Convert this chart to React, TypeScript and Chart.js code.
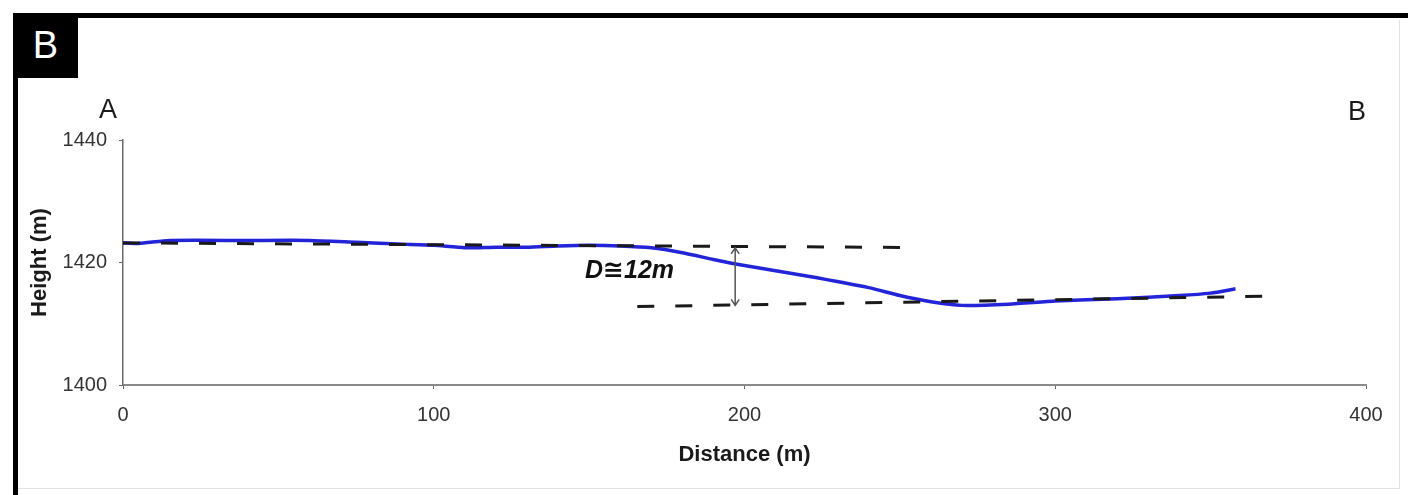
import React, { useEffect, useRef } from "react";
import { Chart, registerables } from "chart.js";

Chart.register(...registerables);

// Profile A–B: distance (m) vs height (m)
const distances = [0, 5, 15, 40, 60, 75, 90, 100, 110, 120, 130, 140, 150, 160, 170, 180, 190, 200, 220, 240, 250, 260, 270, 285, 300, 320, 340, 350, 358];
const heights = [1423.2, 1423.1, 1423.6, 1423.6, 1423.6, 1423.3, 1423.0, 1422.8, 1422.4, 1422.5, 1422.5, 1422.7, 1422.8, 1422.7, 1422.4, 1421.6, 1420.5, 1419.5, 1417.8, 1415.9, 1414.6, 1413.6, 1413.0, 1413.2, 1413.7, 1414.1, 1414.6, 1415.0, 1415.7];

// Dashed reference levels
const upperLevelX = [0, 256];
const upperLevelY = [1423.2, 1422.45];
const lowerLevelX = [165.5, 369];
const lowerLevelY = [1412.8, 1414.5];

// Offset marker
const markerX = 197;
const markerYs = [1422.4, 1413.0];
const gapLabel = "D\u224512m";
const gapLabelAt = [163, 1418.6];

// Axes
const xTicks = [0, 100, 200, 300, 400];
const yTicks = [1400, 1420, 1440];
const xTitle = "Distance (m)";
const yTitle = "Height (m)";
const panelLabel = "B";
const startLabel = "A";
const endLabel = "B";

const gapPlugin = {
  id: "gapMarker",
  afterDatasetsDraw(chart: any) {
    const { ctx, scales } = chart;
    const x = scales.x;
    const y = scales.y;
    const px = x.getPixelForValue(markerX);
    const pTop = y.getPixelForValue(markerYs[0]);
    const pBot = y.getPixelForValue(markerYs[1]);
    ctx.save();
    ctx.strokeStyle = "#555";
    ctx.lineWidth = 1.5;
    ctx.beginPath();
    ctx.moveTo(px, pTop);
    ctx.lineTo(px, pBot);
    ctx.moveTo(px - 4, pTop + 6);
    ctx.lineTo(px, pTop);
    ctx.lineTo(px + 4, pTop + 6);
    ctx.moveTo(px - 4, pBot - 6);
    ctx.lineTo(px, pBot);
    ctx.lineTo(px + 4, pBot - 6);
    ctx.stroke();
    ctx.font = 'italic bold 25px "Liberation Sans", "DejaVu Sans", sans-serif';
    ctx.fillStyle = "#111";
    ctx.textAlign = "center";
    ctx.textBaseline = "middle";
    ctx.fillText(gapLabel, x.getPixelForValue(gapLabelAt[0]), y.getPixelForValue(gapLabelAt[1]));
    ctx.restore();
  },
};

export default function App() {
  const canvasRef = useRef<HTMLCanvasElement | null>(null);

  useEffect(() => {
    if (!canvasRef.current) return;
    const profile = distances.map((d, i) => ({ x: d, y: heights[i] }));
    const upper = upperLevelX.map((d, i) => ({ x: d, y: upperLevelY[i] }));
    const lower = lowerLevelX.map((d, i) => ({ x: d, y: lowerLevelY[i] }));
    const tickFont = { family: '"Liberation Sans", Arial, sans-serif', size: 20, lineHeight: 1.2 };
    const titleFont = { family: '"Liberation Sans", Arial, sans-serif', size: 22, weight: "bold" as const, lineHeight: 1.2 };

    const chart = new Chart(canvasRef.current, {
      type: "line",
      data: {
        datasets: [
          {
            label: "upper",
            data: upper,
            borderColor: "#1a1a1a",
            borderWidth: 3,
            borderDash: [17, 21],
            pointRadius: 0,
            order: 0,
          },
          {
            label: "lower",
            data: lower,
            borderColor: "#1a1a1a",
            borderWidth: 3,
            borderDash: [17, 21],
            pointRadius: 0,
            order: 0,
          },
          {
            label: "profile",
            data: profile,
            borderColor: "#2323d8",
            borderWidth: 3.5,
            pointRadius: 0,
            tension: 0.2,
            order: 1,
          },
        ],
      },
      options: {
        animation: false,
        responsive: false,
        devicePixelRatio: 1,
        layout: { padding: { left: 0, top: 140, right: 42, bottom: 0 } },
        plugins: { legend: { display: false }, tooltip: { enabled: false } },
        scales: {
          x: {
            type: "linear",
            min: 0,
            max: 400,
            afterBuildTicks: (s: any) => {
              s.ticks = xTicks.map((v) => ({ value: v }));
            },
            afterFit: (s: any) => {
              s.height = 110;
            },
            grid: { drawOnChartArea: false, drawTicks: true, tickLength: 4, color: "#666" },
            border: { display: true, color: "#8a8a8a", width: 2 },
            ticks: { font: tickFont, color: "#333", padding: 14, maxRotation: 0, callback: (v: any) => String(v) },
            title: { display: true, text: xTitle, font: titleFont, color: "#1a1a1a", padding: { top: 0, bottom: 27 } },
          },
          y: {
            type: "linear",
            min: 1400,
            max: 1440,
            afterBuildTicks: (s: any) => {
              s.ticks = yTicks.map((v) => ({ value: v }));
            },
            afterFit: (s: any) => {
              s.width = 123;
            },
            grid: { drawOnChartArea: false, drawTicks: true, tickLength: 4, color: "#666" },
            border: { display: true, color: "#6a6a6a", width: 1.5 },
            ticks: { font: tickFont, color: "#333", padding: 12, callback: (v: any) => String(v) },
            title: { display: true, text: yTitle, font: titleFont, color: "#1a1a1a", padding: { top: 27, bottom: 0 } },
          },
        },
      },
      plugins: [gapPlugin],
    });
    return () => chart.destroy();
  }, []);

  const letterFont = '"Liberation Sans", Arial, sans-serif';
  return (
    <div style={{ position: "absolute", left: 0, top: 0, width: 1408, height: 495, background: "#fff", overflow: "hidden" }}>
      <canvas ref={canvasRef} width={1408} height={495} style={{ position: "absolute", left: 0, top: 0, width: 1408, height: 495 }} />
      {/* faint inner frame */}
      <div style={{ position: "absolute", left: 1399, top: 20, width: 1, height: 469, background: "#e2e2e2" }} />
      <div style={{ position: "absolute", left: 18, top: 488, width: 1382, height: 1, background: "#e2e2e2" }} />
      {/* heavy outer frame */}
      <div style={{ position: "absolute", left: 13, top: 13, width: 1395, height: 5, background: "#000" }} />
      <div style={{ position: "absolute", left: 13, top: 13, width: 5, height: 482, background: "#000" }} />
      <div
        style={{
          position: "absolute", left: 13, top: 13, width: 65, height: 65, background: "#000", color: "#fff",
          fontFamily: letterFont, fontSize: 38, lineHeight: "65px", textAlign: "center",
        }}
      >
        {panelLabel}
      </div>
      <div style={{ position: "absolute", left: 88, top: 90, width: 40, textAlign: "center", fontFamily: letterFont, fontSize: 27, lineHeight: "38px", color: "#1a1a1a" }}>
        {startLabel}
      </div>
      <div style={{ position: "absolute", left: 1337, top: 92, width: 40, textAlign: "center", fontFamily: letterFont, fontSize: 27, lineHeight: "38px", color: "#1a1a1a" }}>
        {endLabel}
      </div>
    </div>
  );
}
